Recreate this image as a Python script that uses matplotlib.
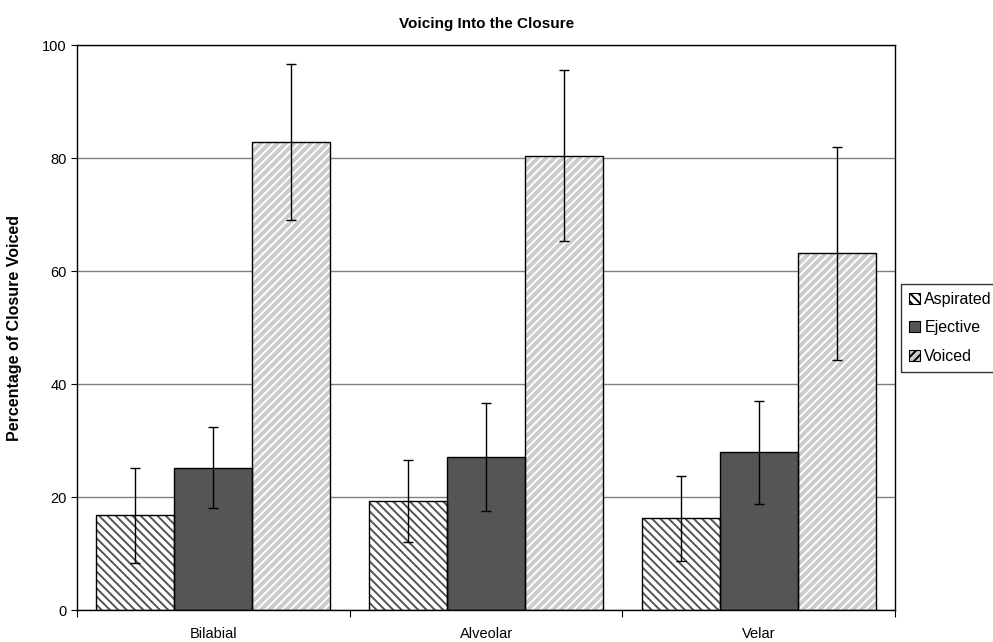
import numpy as np
import matplotlib
matplotlib.use('Agg')
import matplotlib.pyplot as plt
from matplotlib.patches import Patch

plt.rcParams['font.family'] = ['Liberation Sans', 'DejaVu Sans']
plt.rcParams['hatch.linewidth'] = 1.4

categories = ['Bilabial', 'Alveolar', 'Velar']
series = ['Aspirated', 'Ejective', 'Voiced']
means = {
    'Aspirated': [16.8, 19.3, 16.2],
    'Ejective': [25.2, 27.1, 27.9],
    'Voiced': [82.8, 80.4, 63.1],
}
errs = {
    'Aspirated': [8.4, 7.3, 7.5],
    'Ejective': [7.2, 9.5, 9.1],
    'Voiced': [13.8, 15.1, 18.9],
}

# fill colour, hatch colour, hatch pattern
styles = {
    'Aspirated': ('white', '#555555', '\\\\\\\\'),
    'Ejective': ('#555555', '#555555', ''),
    'Voiced': ('#cccccc', 'white', '////'),
}

fig = plt.figure(figsize=(9.93, 6.42), dpi=100)
ax = fig.add_axes([0.0775, 0.0498, 0.824, 0.8801])

x = np.arange(len(categories))
w = 0.286
for i, s in enumerate(series):
    fc, hc, hp = styles[s]
    pos = x + (i - 1) * w
    ax.bar(pos, means[s], w, color=fc, edgecolor=hc, hatch=hp, linewidth=0, zorder=2)
    ax.bar(pos, means[s], w, fill=False, edgecolor='black', linewidth=1.0, zorder=3)
    ax.errorbar(pos, means[s], yerr=errs[s], fmt='none', ecolor='black',
                elinewidth=1.0, capsize=3.5, capthick=1.0, zorder=4)

ax.set_xlim(-0.5, 2.5)
ax.set_ylim(0, 100)
ax.set_yticks(range(0, 101, 20))
ax.yaxis.grid(True, color='#808080', linewidth=1.0, zorder=0)
ax.set_axisbelow(True)
ax.set_xticks([-0.5, 0.5, 1.5, 2.5])
ax.set_xticklabels([])
ax.set_xticks(x, minor=True)
ax.set_xticklabels(categories, minor=True, fontsize=10.5)
ax.tick_params(axis='x', which='minor', length=0, pad=12)
ax.tick_params(axis='x', which='major', length=5, direction='out')
ax.tick_params(axis='y', labelsize=10.5, length=4)
for sp in ax.spines.values():
    sp.set_color('black')
    sp.set_linewidth(1.0)

ax.set_title('Voicing Into the Closure', fontsize=11, fontweight='bold', pad=12)
ax.set_ylabel('Percentage of Closure Voiced', fontsize=11.5, fontweight='bold', labelpad=14)

handles = []
for s in series:
    fc, hc, hp = styles[s]
    handles.append(Patch(facecolor=fc, edgecolor='black', hatch=hp, linewidth=0.8))
leg = ax.legend(handles, series, loc='upper left', bbox_to_anchor=(1.0073, 0.577),
                frameon=True, fancybox=False, edgecolor='black', fontsize=11.5,
                handlelength=0.65, handleheight=0.65, handletextpad=0.3,
                labelspacing=0.84, borderpad=0.5, borderaxespad=0)
leg.get_frame().set_linewidth(1.0)

fig.savefig('out.png', dpi=100)
